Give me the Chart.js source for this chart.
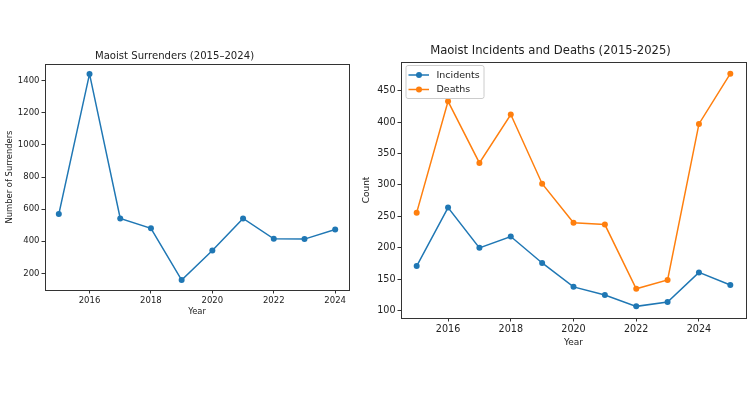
<!DOCTYPE html>
<html>
<head>
<meta charset="utf-8">
<script src="https://cdn.jsdelivr.net/npm/chart.js@4"></script>
<style>
  html, body { margin: 0; padding: 0; background: #fff; }
  body { width: 750px; height: 394px; position: relative; overflow: hidden; }
  .box { position: absolute; top: 0; height: 394px; }
  #left-box { left: 0; width: 370px; }
  #right-box { left: 355px; width: 395px; }
</style>
</head>
<body>
<div class="box" id="left-box"><canvas id="surrenders"></canvas></div>
<div class="box" id="right-box"><canvas id="incidents"></canvas></div>
<script>
// --- Data ---
const surrenderYears = [2015, 2016, 2017, 2018, 2019, 2020, 2021, 2022, 2023, 2024];
const surrenders = [569, 1442, 542, 480, 158, 342, 542, 415, 413, 473];

const incidentYears = [2015, 2016, 2017, 2018, 2019, 2020, 2021, 2022, 2023, 2024, 2025];
const incidents = [171, 264, 200, 218, 176, 138, 125, 107, 114, 161, 141];
const deaths = [256, 433, 335, 412, 302, 240, 237, 135, 149, 397, 477];

const leftXTicks = [2016, 2018, 2020, 2022, 2024];
const leftYTicks = [200, 400, 600, 800, 1000, 1200, 1400];
const rightXTicks = [2016, 2018, 2020, 2022, 2024];
const rightYTicks = [100, 150, 200, 250, 300, 350, 400, 450];

const BLUE = '#1f77b4';
const ORANGE = '#ff7f0e';
const TEXT = '#222';
const AXIS = '#333';
const FONT = 'DejaVu Sans';

// box around the plot area, like matplotlib spines
const frame = {
    id: 'frame',
    afterDatasetsDraw(chart) {
        const a = chart.chartArea;
        const ctx = chart.ctx;
        ctx.save();
        ctx.strokeStyle = AXIS;
        ctx.lineWidth = 1;
        ctx.strokeRect(Math.round(a.left) + 0.5, Math.round(a.top) + 0.5,
            Math.round(a.right - a.left), Math.round(a.bottom - a.top));
        ctx.restore();
    }
};

// matplotlib-style legend (line + marker) in the upper left
const mplLegend = {
    id: 'mplLegend',
    afterDraw(chart, args, opts) {
        if (!opts.display) return;
        const a = chart.chartArea;
        const ctx = chart.ctx;
        const x = a.left + 5, y = a.top + 3.5, w = 78, h = 33;
        ctx.save();
        ctx.fillStyle = 'rgba(255,255,255,0.8)';
        ctx.strokeStyle = '#ccc';
        ctx.lineWidth = 1;
        ctx.beginPath();
        ctx.roundRect(x, y, w, h, 2);
        ctx.fill();
        ctx.stroke();
        ctx.font = '9.5px "' + FONT + '"';
        ctx.textBaseline = 'middle';
        chart.data.datasets.forEach((ds, i) => {
            const cy = y + 9.5 + i * 14.5;
            ctx.strokeStyle = ds.borderColor;
            ctx.lineWidth = 1.5;
            ctx.beginPath();
            ctx.moveTo(x + 2.5, cy);
            ctx.lineTo(x + 23, cy);
            ctx.stroke();
            ctx.fillStyle = ds.borderColor;
            ctx.beginPath();
            ctx.arc(x + 13, cy, 3, 0, Math.PI * 2);
            ctx.fill();
            ctx.fillStyle = TEXT;
            ctx.fillText(ds.label, x + 30.5, cy + 0.5);
        });
        ctx.restore();
    }
};

function makeOptions(cfg) {
    const tickFont = { family: FONT, size: cfg.tickSize };
    const labelFont = { family: FONT, size: cfg.labelSize };
    return {
        responsive: true,
        maintainAspectRatio: false,
        animation: false,
        layout: { padding: cfg.padding },
        plugins: {
            legend: { display: false },
            tooltip: { enabled: false },
            title: {
                display: true,
                text: cfg.title,
                color: TEXT,
                font: { family: FONT, size: cfg.titleSize, weight: 'normal' },
                padding: cfg.titlePadding
            },
            mplLegend: { display: cfg.legend }
        },
        scales: {
            x: {
                type: 'linear',
                min: cfg.xMin,
                max: cfg.xMax,
                afterBuildTicks: s => { s.ticks = cfg.xTicks.map(v => ({ value: v })); },
                afterFit: s => { s.height = cfg.xHeight; },
                ticks: { callback: v => String(v), color: TEXT, font: tickFont, padding: 2, maxRotation: 0, autoSkip: false },
                grid: { drawOnChartArea: false, drawTicks: true, tickLength: 3.5, color: AXIS },
                border: { display: false },
                title: { display: true, text: 'Year', color: TEXT, font: labelFont, padding: 0 }
            },
            y: {
                type: 'linear',
                min: cfg.yMin,
                max: cfg.yMax,
                afterBuildTicks: s => { s.ticks = cfg.yTicks.map(v => ({ value: v })); },
                afterFit: s => { s.width = cfg.yWidth; },
                ticks: { callback: v => String(v), color: TEXT, font: tickFont, padding: 2, autoSkip: false },
                grid: { drawOnChartArea: false, drawTicks: true, tickLength: 3.5, color: AXIS },
                border: { display: false },
                title: { display: true, text: cfg.yTitle, color: TEXT, font: labelFont, padding: { top: cfg.yTitlePad, bottom: 0 } }
            }
        }
    };
}

function series(label, xs, ys, color) {
    return {
        label: label,
        data: xs.map((x, i) => ({ x: x, y: ys[i] })),
        borderColor: color,
        backgroundColor: color,
        borderWidth: 1.5,
        pointRadius: 3,
        pointBorderWidth: 0,
        pointBackgroundColor: color,
        tension: 0,
        clip: false
    };
}

new Chart(document.getElementById('surrenders'), {
    type: 'line',
    data: { datasets: [series('Surrenders', surrenderYears, surrenders, BLUE)] },
    options: makeOptions({
        title: 'Maoist Surrenders (2015–2024)',
        titleSize: 10.1,
        titlePadding: { top: 50, bottom: 1.88 },
        tickSize: 8.5,
        labelSize: 8.4,
        padding: { left: 0, right: 21, top: 0, bottom: 77 },
        xMin: 2014.55, xMax: 2024.45, xTicks: leftXTicks, xHeight: 27,
        yMin: 96, yMax: 1504, yTicks: leftYTicks, yWidth: 45,
        yTitle: 'Number of Surrenders', yTitlePad: 5,
        legend: false
    }),
    plugins: [frame, mplLegend]
});

new Chart(document.getElementById('incidents'), {
    type: 'line',
    data: {
        datasets: [
            series('Incidents', incidentYears, incidents, BLUE),
            series('Deaths', incidentYears, deaths, ORANGE)
        ]
    },
    options: makeOptions({
        title: 'Maoist Incidents and Deaths (2015-2025)',
        titleSize: 11.6,
        titlePadding: { top: 43.7, bottom: 4.38 },
        tickSize: 9.6,
        labelSize: 9,
        padding: { left: 0, right: 4, top: 0, bottom: 46 },
        xMin: 2014.5, xMax: 2025.5, xTicks: rightXTicks, xHeight: 30,
        yMin: 88.5, yMax: 495.5, yTicks: rightYTicks, yWidth: 46,
        yTitle: 'Count', yTitlePad: 6,
        legend: true
    }),
    plugins: [frame, mplLegend]
});
</script>
</body>
</html>
